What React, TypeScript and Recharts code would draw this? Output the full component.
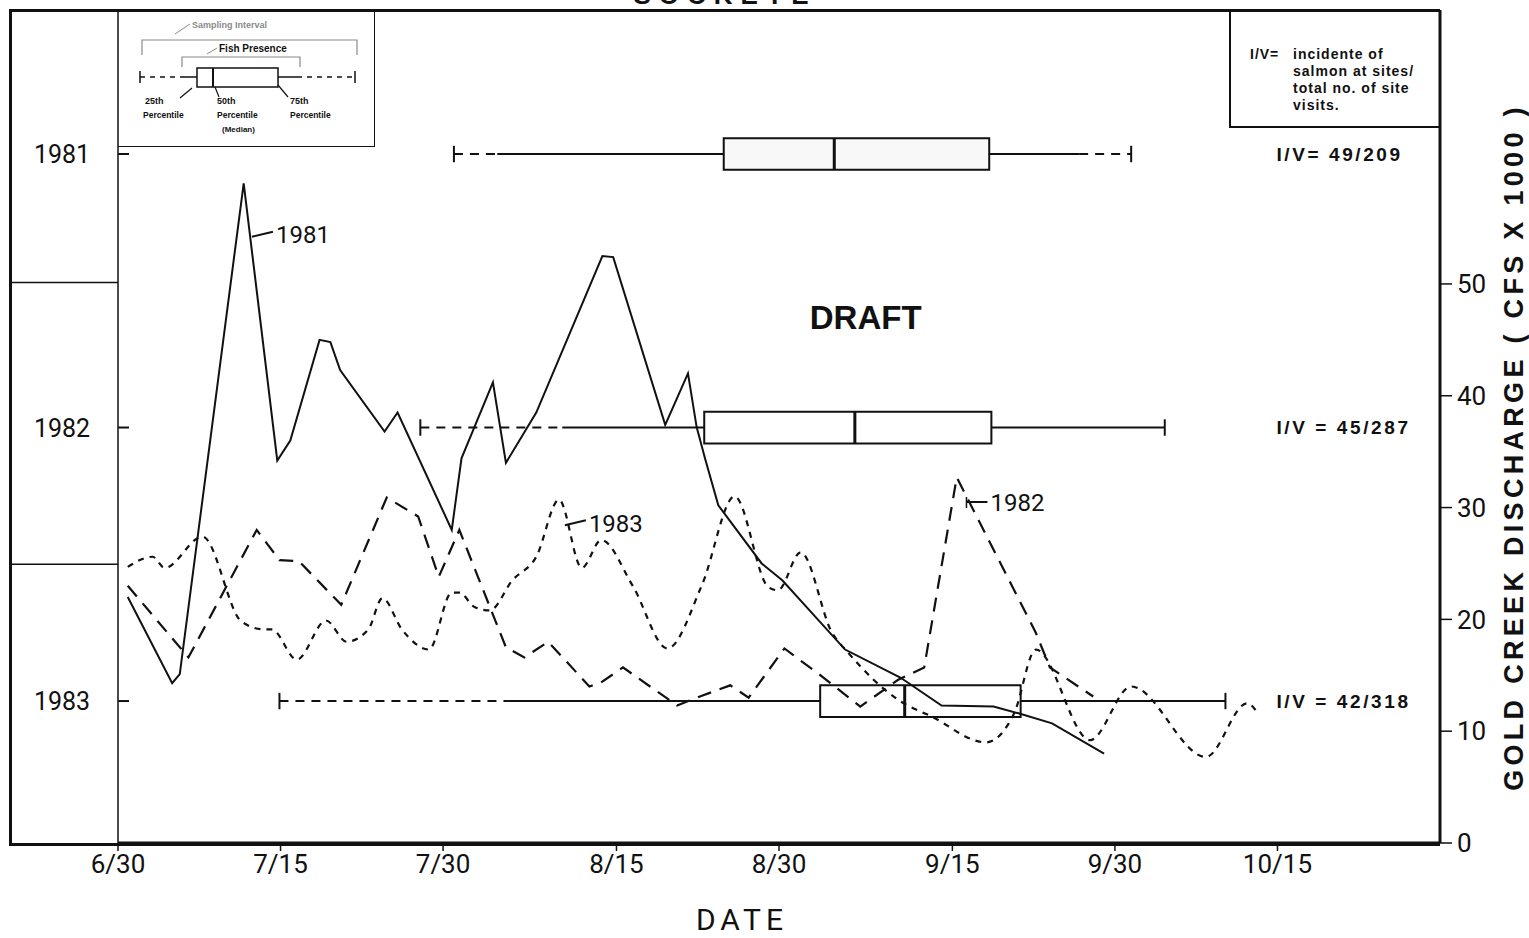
import React from 'react';
import {
	ComposedChart,
	Line,
	XAxis,
	YAxis,
	ReferenceArea,
	ReferenceLine,
	ReferenceDot,
	Label,
} from 'recharts';

/* ─── Gold Creek discharge (days after 6/30, cfs x 1000) ─── */

const DAYS_1981 = [0.9, 5.0, 5.7, 11.6, 14.7, 15.9, 18.6, 19.6, 20.5, 24.6, 25.8, 30.8, 31.7, 34.6, 35.8, 38.6, 44.7, 45.7, 50.5, 52.6, 53.4, 54.2, 55.4, 59.4, 61.3, 67.1, 72.2, 76.0, 80.8, 83.1, 86.2, 91.0];
const FLOW_1981 = [22.0, 14.3, 15.1, 59.0, 34.2, 36.0, 45.0, 44.8, 42.3, 36.8, 38.5, 28.0, 34.4, 41.2, 34.0, 38.5, 52.5, 52.4, 37.4, 42.0, 37.2, 34.3, 30.2, 25.0, 23.5, 17.3, 14.8, 12.3, 12.2, 11.6, 10.7, 8.0];

const DAYS_1982 = [0.9, 6.5, 12.8, 14.9, 16.7, 20.6, 24.8, 27.7, 29.6, 31.5, 35.8, 37.5, 39.7, 43.5, 44.5, 46.6, 51.6, 53.7, 56.5, 58.2, 61.5, 65.1, 68.5, 72.0, 74.4, 77.4, 84.7, 86.0, 90.0];
const FLOW_1982 = [23.0, 16.6, 28.0, 25.3, 25.2, 21.3, 30.9, 29.2, 23.8, 28.0, 17.5, 16.6, 18.0, 14.0, 14.3, 15.7, 12.3, 13.1, 14.1, 13.0, 17.4, 14.8, 12.2, 14.6, 15.7, 32.7, 18.8, 15.7, 13.1];

const DAYS_1983 = [0.9, 3.2, 4.3, 7.8, 11.4, 13.5, 14.2, 16.5, 19.2, 21.1, 23.1, 24.4, 26.2, 28.7, 30.8, 31.5, 32.9, 34.3, 36.4, 38.6, 40.7, 42.8, 44.6, 47.5, 50.7, 53.9, 56.9, 60.0, 60.9, 63.0, 65.9, 67.4, 72.0, 75.1, 80.1, 82.7, 84.7, 89.7, 93.5, 100.4, 104.2, 105.2];
const FLOW_1983 = [24.7, 25.6, 24.6, 27.4, 19.8, 19.1, 19.1, 16.4, 19.9, 18.0, 19.1, 21.9, 19.1, 17.3, 22.4, 22.4, 21.1, 20.8, 23.5, 25.6, 30.7, 24.6, 27.1, 23.0, 17.4, 23.1, 31.0, 22.9, 22.6, 26.0, 18.8, 17.0, 12.8, 11.3, 9.0, 11.6, 17.3, 9.2, 14.0, 7.7, 12.5, 11.6];

/* ─── Fish presence box plots, one row per year ─── */

const ROW_YEARS = [1981, 1982, 1983];
const SAMPLING_START = [31.0, 27.9, 14.9];
const PRESENCE_START = [35.0, 41.0, 36.0];
const Q25 = [55.9, 54.1, 64.8];
const MEDIAN = [66.1, 68.0, 72.6];
const Q75 = [80.4, 80.6, 83.3];
const PRESENCE_END = [88.7, 96.6, 102.2];
const SAMPLING_END = [93.5, 96.6, 102.2];
const IV_LABELS = ['I/V= 49/209', 'I/V = 45/287', 'I/V = 42/318'];

/* ─── Axes ─── */

const X_TICK_DAYS = [0, 15, 30, 46, 61, 77, 92, 107];
const X_TICK_LABELS = ['6/30', '7/15', '7/30', '8/15', '8/30', '9/15', '9/30', '10/15'];
const Q_TICKS = [0, 10, 20, 30, 40, 50];
const ROW_TICKS = [1981, 1981.47, 1982, 1982.5, 1983];

/* ─── Line labels ─── */

const SERIES_LABELS = ['1981', '1982', '1983'];
const SERIES_LABEL_DAY = [12.36, 78.3, 41.24];
const SERIES_LABEL_FLOW = [54.4, 30.5, 28.6];

const INK = '#111';
const SANS = "Roboto, 'Liberation Sans', sans-serif";
const BOLD = "'Liberation Sans', Arial, sans-serif";

const toPoints = (days: number[], flows: number[]) =>
	days.map((d, i) => ({ day: d, flow: flows[i] }));

const BOX_HALF = 0.058;
const CAP_HALF = 0.03;

function YearTick(props: any) {
	const { x, y, payload } = props;
	const v = payload.value;
	if (!Number.isInteger(v)) {
		return <line x1={x - 108} x2={x} y1={y} y2={y} stroke={INK} strokeWidth={1.5} />;
	}
	return (
		<g>
			<line x1={x} x2={x + 11} y1={y} y2={y} stroke={INK} strokeWidth={2} />
			<text x={x - 56} y={y} dy="0.36em" textAnchor="middle" fontSize={25} fontFamily={SANS} fill={INK}>
				{v}
			</text>
		</g>
	);
}

function seriesLabel(text: string, tick: boolean) {
	return (p: any) => {
		const { x, y } = p.viewBox;
		return (
			<g>
				{tick && <line x1={x} x2={x} y1={y - 5} y2={y + 6} stroke={INK} strokeWidth={1.5} />}
				<line x1={x} x2={x + 21} y1={y + (tick ? 0 : 2)} y2={y - (tick ? 0 : 3)} stroke={INK} strokeWidth={2} />
				<text x={x + 24} y={y} dy="0.36em" fontSize={24} fontFamily={SANS} fill={INK}>
					{text}
				</text>
			</g>
		);
	};
}

function ivLabel(text: string) {
	return (p: any) => {
		const { x, y } = p.viewBox;
		return (
			<text x={x} y={y} dy="0.36em" fontSize={19} fontWeight={700} letterSpacing={2.6} fontFamily={BOLD} fill={INK}>
				{text}
			</text>
		);
	};
}

function Schematic() {
	const g = '#8a8a8a';
	return (
		<svg width={257} height={137} style={{ position: 'absolute', left: 0, top: 0 }}>
			<g fontFamily={BOLD} fontWeight={700} fill={INK}>
				<text x={74} y={18} fontSize={9} fill={g}>Sampling Interval</text>
				<line x1={57} y1={24} x2={72} y2={14} stroke={g} strokeWidth={1} />
				<polyline points="24,45 24,30 239,30 239,45" fill="none" stroke={g} strokeWidth={1.2} />
				<text x={101} y={42} fontSize={10}>Fish Presence</text>
				<line x1={89} y1={44} x2={99} y2={38} stroke={g} strokeWidth={1} />
				<polyline points="64,57 64,47 182,47 182,57" fill="none" stroke={g} strokeWidth={1.2} />
				<line x1={22} y1={61} x2={22} y2={73} stroke={INK} strokeWidth={1.5} />
				<line x1={22} y1={67} x2={67} y2={67} stroke={INK} strokeWidth={1.5} strokeDasharray="5 5" />
				<line x1={67} y1={67} x2={79} y2={67} stroke={INK} strokeWidth={1.5} />
				<rect x={79} y={58} width={81} height={19} fill="none" stroke={INK} strokeWidth={1.5} />
				<line x1={95} y1={58} x2={95} y2={77} stroke={INK} strokeWidth={2} />
				<line x1={160} y1={67} x2={179} y2={67} stroke={INK} strokeWidth={1.5} />
				<line x1={179} y1={67} x2={237} y2={67} stroke={INK} strokeWidth={1.5} strokeDasharray="5 5" />
				<line x1={237} y1={61} x2={237} y2={73} stroke={INK} strokeWidth={1.5} />
				<line x1={74} y1={78} x2={62} y2={88} stroke={INK} strokeWidth={1.2} />
				<line x1={97} y1={77} x2={101} y2={87} stroke={INK} strokeWidth={1.2} />
				<line x1={160} y1={75} x2={170} y2={87} stroke={INK} strokeWidth={1.2} />
				<text x={27} y={94} fontSize={9}>25th</text>
				<text x={99} y={94} fontSize={9}>50th</text>
				<text x={172} y={94} fontSize={9}>75th</text>
				<text x={25} y={108} fontSize={8.5}>Percentile</text>
				<text x={99} y={108} fontSize={8.5}>Percentile</text>
				<text x={172} y={108} fontSize={8.5}>Percentile</text>
				<text x={104} y={122} fontSize={8}>(Median)</text>
			</g>
		</svg>
	);
}

export default function App() {
	return (
		<div style={{ position: 'relative', width: 1529, height: 938, background: '#fff', overflow: 'hidden' }}>
			<style>{'body{margin:0;background:#fff}'}</style>

			{/* title, cut off at the top edge as in the scan */}
			<div
				style={{
					position: 'absolute',
					left: 560,
					width: 330,
					top: -20,
					textAlign: 'center',
					fontFamily: BOLD,
					fontWeight: 700,
					fontSize: 26,
					letterSpacing: 8,
					color: INK,
				}}
			>
				SOCKEYE
			</div>

			{/* outer frame */}
			<div
				style={{
					position: 'absolute',
					left: 9,
					top: 9,
					width: 1428,
					height: 831,
					borderLeft: `3px solid ${INK}`,
					borderTop: `3px solid ${INK}`,
					borderBottom: `3px solid ${INK}`,
				}}
			/>

			<ComposedChart
				width={1529}
				height={938}
				margin={{ top: 10, right: 29, bottom: 55, left: 10 }}
				style={{ position: 'absolute', left: 0, top: 0 }}
			>
				<XAxis
					dataKey="day"
					type="number"
					domain={[0, 122]}
					allowDataOverflow
					ticks={X_TICK_DAYS}
					tickFormatter={(v: number) => X_TICK_LABELS[X_TICK_DAYS.indexOf(v)] ?? ''}
					axisLine={{ stroke: INK, strokeWidth: 3 }}
					tickLine={{ stroke: INK, strokeWidth: 1.5 }}
					tickSize={8}
					tickMargin={4}
					tick={{ fontSize: 26, fontFamily: SANS, fill: INK }}
					height={40}
				>
					<Label
						content={(p: any) => (
							<text
								x={742}
								y={p.viewBox.y + 87}
								textAnchor="middle"
								fontSize={30}
								letterSpacing={5}
								fontFamily={SANS}
								fill={INK}
							>
								DATE
							</text>
						)}
					/>
				</XAxis>

				<YAxis
					yAxisId="rows"
					orientation="left"
					type="number"
					domain={[1980.4735, 1983.519]}
					allowDataOverflow
					reversed
					ticks={ROW_TICKS}
					interval={0}
					width={108}
					tickSize={0}
					tickMargin={0}
					tickLine={false}
					axisLine={{ stroke: INK, strokeWidth: 1.5 }}
					tick={<YearTick />}
				/>

				<YAxis
					yAxisId="q"
					orientation="right"
					type="number"
					domain={[0, 74.5]}
					allowDataOverflow
					ticks={Q_TICKS}
					interval={0}
					width={60}
					axisLine={{ stroke: INK, strokeWidth: 3 }}
					tickLine={{ stroke: INK, strokeWidth: 1.5 }}
					tickSize={12}
					tickMargin={5}
					tick={{ fontSize: 26, fontFamily: SANS, fill: INK }}
				>
					<Label
						content={(p: any) => {
							const cx = p.viewBox.x + 74;
							const cy = 447;
							return (
								<text
									x={cx}
									y={cy}
									transform={`rotate(-90 ${cx} ${cy})`}
									textAnchor="middle"
									dominantBaseline="central"
									fontSize={27}
									fontWeight={700}
									letterSpacing={4.3}
									fontFamily={BOLD}
									fill={INK}
								>
									GOLD CREEK DISCHARGE ( CFS X 1000 )
								</text>
							);
						}}
					/>
				</YAxis>

				{/* box plots */}
				{ROW_YEARS.map((yr, i) => (
					<ReferenceArea
						key={`box-${yr}`}
						yAxisId="rows"
						x1={Q25[i]}
						x2={Q75[i]}
						y1={yr - BOX_HALF}
						y2={yr + BOX_HALF}
						fill={i === 0 ? '#d8d8d8' : '#ffffff'}
						fillOpacity={i === 0 ? 0.18 : 0}
						stroke={INK}
						strokeWidth={2}
					/>
				))}
				{ROW_YEARS.map((yr, i) => (
					<ReferenceLine
						key={`med-${yr}`}
						yAxisId="rows"
						segment={[{ x: MEDIAN[i], y: yr - BOX_HALF }, { x: MEDIAN[i], y: yr + BOX_HALF }]}
						stroke={INK}
						strokeWidth={3}
					/>
				))}
				{ROW_YEARS.map((yr, i) => (
					<ReferenceLine
						key={`lo-dash-${yr}`}
						yAxisId="rows"
						segment={[{ x: SAMPLING_START[i], y: yr }, { x: PRESENCE_START[i], y: yr }]}
						stroke={INK}
						strokeWidth={2}
						strokeDasharray="9 7"
					/>
				))}
				{ROW_YEARS.map((yr, i) => (
					<ReferenceLine
						key={`lo-solid-${yr}`}
						yAxisId="rows"
						segment={[{ x: PRESENCE_START[i], y: yr }, { x: Q25[i], y: yr }]}
						stroke={INK}
						strokeWidth={2}
					/>
				))}
				{ROW_YEARS.map((yr, i) => (
					<ReferenceLine
						key={`hi-solid-${yr}`}
						yAxisId="rows"
						segment={[{ x: Q75[i], y: yr }, { x: PRESENCE_END[i], y: yr }]}
						stroke={INK}
						strokeWidth={2}
					/>
				))}
				{ROW_YEARS.map((yr, i) =>
					SAMPLING_END[i] > PRESENCE_END[i] ? (
						<ReferenceLine
							key={`hi-dash-${yr}`}
							yAxisId="rows"
							segment={[{ x: PRESENCE_END[i], y: yr }, { x: SAMPLING_END[i], y: yr }]}
							stroke={INK}
							strokeWidth={2}
							strokeDasharray="9 7"
						/>
					) : null,
				)}
				{ROW_YEARS.map((yr, i) => (
					<ReferenceLine
						key={`cap-lo-${yr}`}
						yAxisId="rows"
						segment={[{ x: SAMPLING_START[i], y: yr - CAP_HALF }, { x: SAMPLING_START[i], y: yr + CAP_HALF }]}
						stroke={INK}
						strokeWidth={2}
					/>
				))}
				{ROW_YEARS.map((yr, i) => (
					<ReferenceLine
						key={`cap-hi-${yr}`}
						yAxisId="rows"
						segment={[{ x: SAMPLING_END[i], y: yr - CAP_HALF }, { x: SAMPLING_END[i], y: yr + CAP_HALF }]}
						stroke={INK}
						strokeWidth={2}
					/>
				))}
				{ROW_YEARS.map((yr, i) => (
					<ReferenceDot
						key={`iv-${yr}`}
						yAxisId="rows"
						x={106.9}
						y={yr}
						r={0}
						fill="none"
						stroke="none"
					>
						<Label content={ivLabel(IV_LABELS[i])} />
					</ReferenceDot>
				))}

				{/* discharge */}
				<Line
					yAxisId="q"
					data={toPoints(DAYS_1981, FLOW_1981)}
					dataKey="flow"
					type="linear"
					stroke={INK}
					strokeWidth={2}
					dot={false}
					isAnimationActive={false}
				/>
				<Line
					yAxisId="q"
					data={toPoints(DAYS_1982, FLOW_1982)}
					dataKey="flow"
					type="linear"
					stroke={INK}
					strokeWidth={2.2}
					strokeDasharray="14 9"
					dot={false}
					isAnimationActive={false}
				/>
				<Line
					yAxisId="q"
					data={toPoints(DAYS_1983, FLOW_1983)}
					dataKey="flow"
					type="monotone"
					stroke={INK}
					strokeWidth={2.2}
					strokeDasharray="6 6"
					dot={false}
					isAnimationActive={false}
				/>

				{SERIES_LABELS.map((s, i) => (
					<ReferenceDot
						key={`lbl-${s}`}
						yAxisId="q"
						x={SERIES_LABEL_DAY[i]}
						y={SERIES_LABEL_FLOW[i]}
						r={0}
						fill="none"
						stroke="none"
					>
						<Label content={seriesLabel(s, s === '1982')} />
					</ReferenceDot>
				))}

				<ReferenceDot yAxisId="q" x={69.0} y={47.0} r={0} fill="none" stroke="none">
					<Label
						content={(p: any) => (
							<text
								x={p.viewBox.x}
								y={p.viewBox.y}
								textAnchor="middle"
								dy="0.36em"
								fontSize={33}
								fontWeight={700}
								fontFamily={BOLD}
								fill={INK}
							>
								DRAFT
							</text>
						)}
					/>
				</ReferenceDot>
			</ComposedChart>

			{/* legend schematic */}
			<div
				style={{
					position: 'absolute',
					left: 118,
					top: 10,
					width: 256,
					height: 136,
					borderRight: `1.5px solid ${INK}`,
					borderBottom: `1.5px solid ${INK}`,
				}}
			>
				<Schematic />
			</div>

			{/* I/V definition */}
			<div
				style={{
					position: 'absolute',
					left: 1229,
					top: 10,
					width: 209,
					height: 116,
					borderLeft: `2px solid ${INK}`,
					borderBottom: `2px solid ${INK}`,
					fontFamily: BOLD,
					fontWeight: 700,
					fontSize: 14,
					letterSpacing: 1,
					lineHeight: '17px',
					color: INK,
				}}
			>
				<div style={{ position: 'absolute', left: 19, top: 36 }}>I/V=</div>
				<div style={{ position: 'absolute', left: 62, top: 36 }}>
					incidente of
					<br />
					salmon at sites/
					<br />
					total no. of site
					<br />
					visits.
				</div>
			</div>
		</div>
	);
}
